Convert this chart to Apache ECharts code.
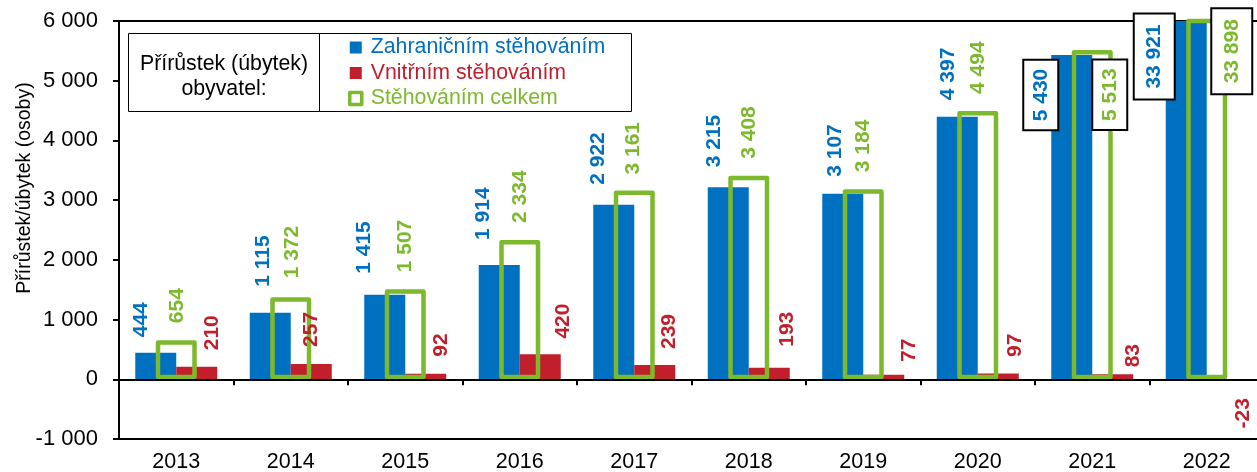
<!DOCTYPE html>
<html><head><meta charset="utf-8">
<script src="https://cdn.jsdelivr.net/npm/echarts@6/dist/echarts.min.js"></script>
<style>html,body{margin:0;padding:0;background:#fff}#c{width:1257px;height:472px}</style>
</head><body><div id="c"></div>
<script>
// ---- data ----
const years = ['2013','2014','2015','2016','2017','2018','2019','2020','2021','2022'];
const zahranicni = [444, 1115, 1415, 1914, 2922, 3215, 3107, 4397, 5430, 33921];
const vnitrni = [210, 257, 92, 420, 239, 193, 77, 97, 83, -23];
const celkem = [654, 1372, 1507, 2334, 3161, 3408, 3184, 4494, 5513, 33898];
const yMin = -1000, yMax = 6000, yStep = 1000;
const seriesNames = ['Zahraničním stěhováním', 'Vnitřním stěhováním', 'Stěhováním celkem'];
const legendTitle = 'Přírůstek (úbytek)\nobyvatel:';
const yName = 'Přírůstek/úbytek (osoby)';

// ---- styling ----
const BLUE = '#0070C0', RED = '#C01F2B', GREEN = '#7DB92C';
const FONT = '"Liberation Sans", Arial, sans-serif';
// label placement tweaks: [horizontal shift, gap] or box {dx, dy, pad}
const blueLab = [[-15,15.5],[-7,26],[-21,21],[-16,25],[-16,20],[-14,20],[-8,17],[-9,16.5],
  {dx:-31, dy:40, pad:[6,8]}, {dx:-32, dy:35.5, pad:[9,10]}];
const redLab = [[15,16.5],[0,17],[15,17],[23,15.6],[14,16],[18,21],[25,12.7],[17,16.5],[20,7],[16,17.5]];
const greenLab = [[1,17],[1,19],[0,17],[0,17],[-1,16],[0,17],[0,17],[0,17],
  {dx:17.5, dy:44.6, pad:[6,8]}, {dx:25, dy:32.5, pad:[9,10]}];

function fmt(v) {
  const s = Math.abs(Math.round(v)).toString().replace(/\B(?=(\d{3})+(?!\d))/g, ' ');
  return (v < 0 ? '-' : '') + s;
}

function makeData(values, tweaks, color) {
  return values.map(function (v, i) {
    const t = tweaks[i];
    const base = {
      show: true, color: color, fontFamily: FONT, fontWeight: 'bold', fontSize: 21,
      rotate: 90, formatter: function (p) { return fmt(p.value); }
    };
    let label;
    if (!Array.isArray(t)) {
      label = Object.assign(base, {
        position: 'top', distance: 0, align: 'center', verticalAlign: 'middle',
        offset: [-t.dy, t.dx], backgroundColor: '#fff', borderColor: '#000',
        borderWidth: 2, padding: t.pad
      });
    } else if (v < 0) {
      label = Object.assign(base, {
        position: 'bottom', distance: t[1], align: 'right', verticalAlign: 'middle', offset: [0, t[0]]
      });
    } else {
      label = Object.assign(base, {
        position: 'top', distance: t[1], align: 'left', verticalAlign: 'middle', offset: [0, t[0]]
      });
    }
    return { value: v, label: label };
  });
}

const chart = echarts.init(document.getElementById('c'), null, { renderer: 'canvas' });
chart.setOption({
  animation: false,
  backgroundColor: '#fff',
  grid: {
    left: 119, right: -7, top: 21, bottom: 33,
    show: true, borderColor: '#000', borderWidth: 2, backgroundColor: 'transparent',
    outerBoundsMode: 'none'
  },
  legend: {
    orient: 'vertical', left: 348, top: 37, padding: 0, itemWidth: 12, itemHeight: 12, itemGap: 4.5,
    selectedMode: false, icon: 'rect',
    textStyle: { fontSize: 21.3, fontFamily: FONT, padding: [0, 0, 0, 4] },
    data: [
      { name: seriesNames[0], textStyle: { color: BLUE }, itemStyle: { color: BLUE } },
      { name: seriesNames[1], textStyle: { color: RED }, itemStyle: { color: RED } },
      { name: seriesNames[2], textStyle: { color: GREEN },
        itemStyle: { color: '#fff', borderColor: GREEN, borderWidth: 3.5 } }
    ]
  },
  graphic: [
    { type: 'rect', z: 0, shape: { x: 128.5, y: 33.5, width: 191, height: 78 },
      style: { fill: '#fff', stroke: '#000', lineWidth: 1 } },
    { type: 'rect', z: 0, shape: { x: 319.5, y: 33.5, width: 312, height: 78 },
      style: { fill: '#fff', stroke: '#000', lineWidth: 1 } },
    { type: 'text', z: 1, style: { text: legendTitle, x: 224, y: 76.5, align: 'center',
      verticalAlign: 'middle', fontSize: 21.3, fontFamily: FONT, lineHeight: 25, fill: '#000' } }
  ],
  xAxis: [
    { type: 'category', data: years, position: 'bottom',
      axisLine: { onZero: false, lineStyle: { color: '#000', width: 2 } },
      axisTick: { show: false },
      axisLabel: { fontSize: 21.5, fontFamily: FONT, color: '#000', margin: 12 } },
    { type: 'category', data: years, position: 'bottom', z: 3,
      axisLine: { onZero: true, lineStyle: { color: '#000', width: 2 } },
      axisTick: { show: true, length: 6, lineStyle: { color: '#000', width: 2 } },
      axisLabel: { show: false } }
  ],
  yAxis: {
    type: 'value', min: yMin, max: yMax, interval: yStep,
    name: yName, nameLocation: 'middle', nameGap: 84, nameMoveOverlap: false,
    nameTextStyle: { fontSize: 19.5, fontFamily: FONT, color: '#000', padding: [0, 0, 0, 84] },
    axisLine: { show: true, lineStyle: { color: '#000', width: 2 } },
    axisTick: { show: true, length: 6, lineStyle: { color: '#000', width: 2 } },
    splitLine: { show: false },
    axisLabel: { fontSize: 22, fontFamily: FONT, color: '#000', margin: 21, formatter: fmt }
  },
  series: [
    { name: seriesNames[0], type: 'bar', xAxisIndex: 0, barWidth: 41, barGap: '0%',
      itemStyle: { color: BLUE }, emphasis: { disabled: true },
      data: makeData(zahranicni, blueLab, BLUE) },
    { name: seriesNames[1], type: 'bar', xAxisIndex: 0, barWidth: 41, barGap: '0%',
      itemStyle: { color: RED }, emphasis: { disabled: true },
      data: makeData(vnitrni, redLab, RED) },
    { name: seriesNames[2], type: 'bar', xAxisIndex: 1, barWidth: 41,
      itemStyle: { color: 'rgba(0,0,0,0)', borderColor: GREEN, borderWidth: 4.5, borderJoin: 'round' },
      emphasis: { disabled: true },
      data: makeData(celkem, greenLab, GREEN) }
  ]
});
</script></body></html>
